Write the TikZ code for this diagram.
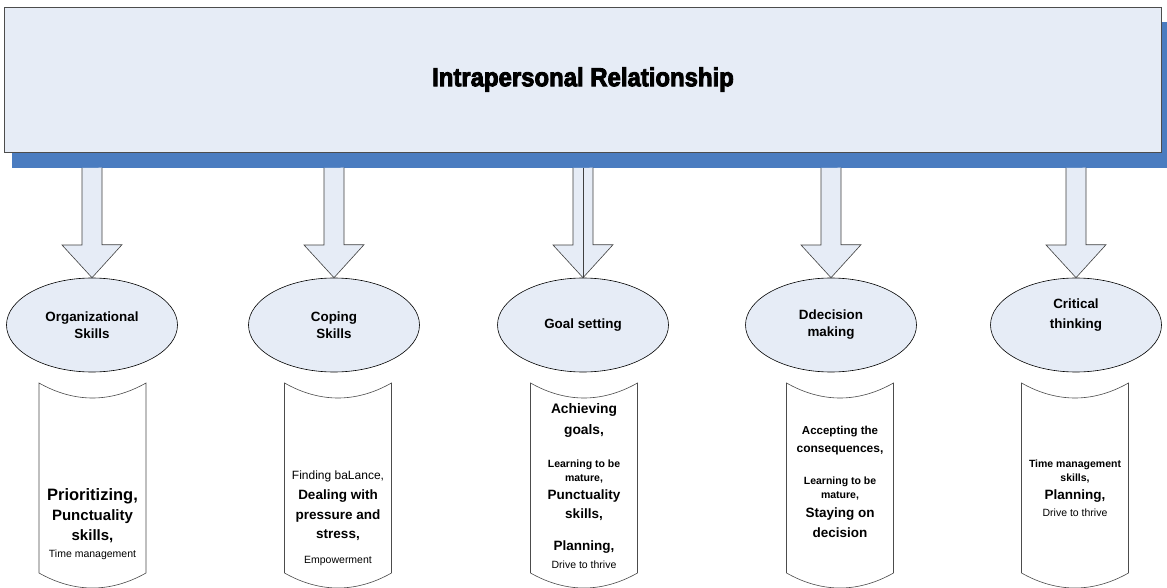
\documentclass[tikz,border=0pt]{standalone}
\usepackage{fontspec}
\setmainfont{Liberation Sans}
\newfontfamily\headfont[BoldFeatures={FakeBold=3.5}]{Liberation Sans}
\usepackage{tikz}
\usetikzlibrary{shapes.geometric}

\definecolor{paleblue}{RGB}{230,236,246}
\definecolor{shadeblue}{RGB}{74,124,192}

\tikzset{
  topic/.style={ellipse,draw=black,fill=paleblue,line width=0.6pt,
    minimum width=171pt,minimum height=94pt,inner sep=0pt,align=center,
    font=\fontsize{13.4}{17}\selectfont\bfseries},
  caption/.style={inner sep=0pt,align=center,font=\fontsize{13.4}{20}\selectfont\bfseries},
  blockarrow/.style={draw=black!75,fill=paleblue,line width=0.6pt,line join=miter},
  scroll/.style={draw=black!70,fill=white,line width=0.6pt},
  txt/.style={inner sep=0pt,anchor=center},
  hb/.style={txt,font=\fontsize{13.5}{15}\selectfont\bfseries},
  sb/.style={txt,font=\fontsize{10.5}{12}\selectfont\bfseries},
  rg/.style={txt,font=\fontsize{10.5}{12}\selectfont},
}

% block arrow from the bar down onto a topic
\newcommand{\feedarrow}[1]{%
  \draw[blockarrow] (#1.north |- bar) ++(-10,0) -- ++(0,77) -- ++(-20,0) -- (#1.north)
    -- ++(30,-33) -- ++(-20,0) -- ++(0,-77);}
% bent sheet under a topic, #1 = centre x
\newcommand{\tapebox}[1]{%
  \draw[scroll] (#1-53.5,383) .. controls (#1-18,403) and (#1+18,403) .. (#1+53.5,383)
    -- (#1+53.5,573) .. controls (#1+18,593) and (#1-18,593) .. (#1-53.5,573) -- cycle;}

\begin{document}
\begin{tikzpicture}[x=1pt,y=-1pt]
\useasboundingbox[fill=white] (0,0) rectangle (1167,588);

% heading bar with its shadow
\fill[shadeblue] (12,22) rectangle (1167,168);
\node[draw=black!70,fill=paleblue,line width=0.8pt,minimum width=1157pt,minimum height=145pt,
  inner sep=0pt,font=\headfont\fontsize{26}{30}\selectfont\bfseries] (title) at (583,79.5)
  {\scalebox{0.92}[1]{Intrapersonal Relationship}};
\coordinate (bar) at (0,168);

% topics
\node[topic] (org) at (92,325) {Organizational\\Skills};
\node[topic] (coping) at (334,325) {Coping\\Skills};
\node[topic] (goal) at (583,325) {Goal setting};
\node[topic] (decision) at (831,325) {Ddecision\\making};
\node[topic] (critical) at (1076,325) {};
\node[caption] (critical-t) at ([yshift=10pt]critical.center) {Critical\\thinking};

\feedarrow{org}
\feedarrow{coping}
\feedarrow{goal}
\draw[black!75,line width=0.6pt] (goal.north |- bar) -- (goal.north);
\feedarrow{decision}
\feedarrow{critical}

% sheets
\tapebox{92.5}
\tapebox{338}
\tapebox{584}
\tapebox{840}
\tapebox{1075}

\node[txt,font=\fontsize{16.5}{18}\selectfont\bfseries] (org-a) at (92.5,496) {Prioritizing,};
\node[txt,font=\fontsize{15}{17}\selectfont\bfseries] (org-b) at (92.5,517) {Punctuality};
\node[txt,font=\fontsize{15}{17}\selectfont\bfseries] (org-c) at (92.5,536) {skills,};
\node[rg] (org-d) at (92.5,555) {Time management};

\node[txt,font=\fontsize{12}{14}\selectfont] (coping-a) at (338,476) {Finding baLance,};
\node[hb] (coping-b) at (338,496) {Dealing with};
\node[hb] (coping-c) at (338,516) {pressure and};
\node[hb] (coping-d) at (338,535) {stress,};
\node[rg] (coping-e) at (338,561) {Empowerment};

\node[txt,font=\fontsize{13.8}{16}\selectfont\bfseries] (goal-a) at (584,410) {Achieving};
\node[txt,font=\fontsize{13.8}{16}\selectfont\bfseries] (goal-b) at (584,431) {goals,};
\node[sb] (goal-c) at (584,465) {Learning to be};
\node[sb] (goal-d) at (584,479) {mature,};
\node[hb] (goal-e) at (584,496) {Punctuality};
\node[hb] (goal-f) at (584,515) {skills,};
\node[hb] (goal-g) at (584,547) {Planning,};
\node[rg] (goal-h) at (584,565) {Drive to thrive};

\node[txt,font=\fontsize{11.5}{13}\selectfont\bfseries] (decision-a) at (840,432) {Accepting the};
\node[txt,font=\fontsize{12}{14}\selectfont\bfseries] (decision-b) at (840,451) {consequences,};
\node[sb] (decision-c) at (840,482) {Learning to be};
\node[sb] (decision-d) at (840,496) {mature,};
\node[hb] (decision-e) at (840,514) {Staying on};
\node[hb] (decision-f) at (840,533) {decision};

\node[sb] (critical-a) at (1075,465) {Time management};
\node[sb] (critical-b) at (1075,479) {skills,};
\node[hb] (critical-c) at (1075,496) {Planning,};
\node[rg] (critical-d) at (1075,513) {Drive to thrive};
\end{tikzpicture}
\end{document}
